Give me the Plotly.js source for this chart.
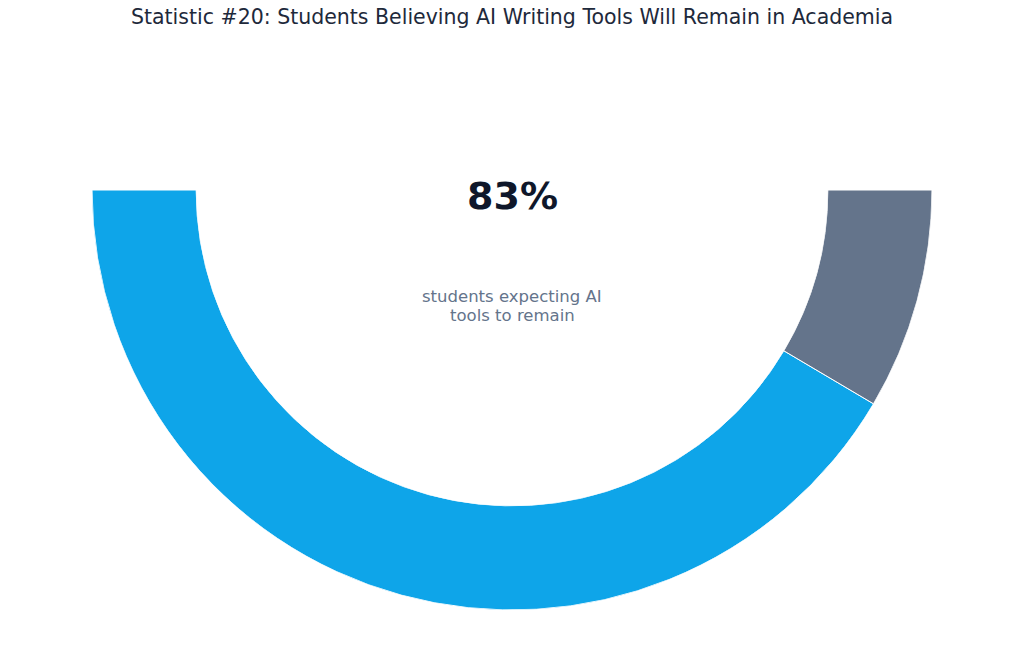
<!DOCTYPE html>
<html>
<head>
<meta charset="utf-8">
<script src="https://cdn.plot.ly/plotly-3.0.1.min.js"></script>
<style>
  html, body { margin: 0; padding: 0; background: #ffffff; }
  #chart { width: 1024px; height: 659px; }
</style>
</head>
<body>
<div id="chart"></div>
<script>
"use strict";

// data
var labels = ["Expect AI tools to remain", "Other"];
var values = [83, 17];
var colors = ["#0ea5e9", "#64748b"];
var bigLabel = "83%";
var subLines = ["students expecting AI", "tools to remain"];

// half gauge: 100% maps onto 180 degrees, starting at the left (180deg)
var theta = [];
var widths = [];
var start = 180;
for (var i = 0; i < values.length; i++) {
    var w = values[i] * 180 / 100;
    widths.push(w);
    theta.push(start + w / 2);
    start += w;
}

var data = [{
    type: "barpolar",
    r: values.map(function () { return 1; }),
    theta: theta,
    width: widths,
    base: 0,
    text: labels,
    marker: {
        color: colors,
        line: { color: "#ffffff", width: 1 }
    },
    hoverinfo: "text"
}];

var W = 1024, H = 659;
var layout = {
    width: W,
    height: H,
    margin: { l: 0, r: 0, t: 0, b: 0 },
    paper_bgcolor: "#ffffff",
    showlegend: false,
    font: { family: "DejaVu Sans, sans-serif" },
    title: {
        text: "Statistic #20: Students Believing AI Writing Tools Will Remain in Academia",
        font: { size: 20.5, color: "#1e293b", family: "DejaVu Sans, sans-serif" },
        x: 0.5, xanchor: "center",
        y: 1 - 17 / H, yanchor: "middle", yref: "container"
    },
    polar: {
        domain: { x: [92 / W, 932 / W], y: [1 - 610 / H, 1 - 190 / H] },
        sector: [180, 360],
        hole: 0.752,
        bgcolor: "rgba(0,0,0,0)",
        radialaxis: { range: [0, 1], visible: false, showgrid: false, showline: false, showticklabels: false, ticks: "" },
        angularaxis: { visible: false, showgrid: false, showline: false, showticklabels: false, ticks: "", direction: "counterclockwise", rotation: 0 }
    },
    annotations: [
        {
            text: "<b>" + bigLabel + "</b>",
            x: 0.5, xref: "paper", xanchor: "center",
            y: 1 - 196 / H, yref: "paper", yanchor: "middle",
            showarrow: false,
            font: { size: 38, color: "#0f172a", family: "DejaVu Sans, sans-serif" }
        },
        {
            text: subLines[0],
            x: 0.5, xref: "paper", xanchor: "center",
            y: 1 - 297 / H, yref: "paper", yanchor: "middle",
            showarrow: false,
            font: { size: 16.5, color: "#64748b", family: "DejaVu Sans, sans-serif" }
        },
        {
            text: subLines[1],
            x: 0.5, xref: "paper", xanchor: "center",
            y: 1 - 315 / H, yref: "paper", yanchor: "middle",
            showarrow: false,
            font: { size: 16.5, color: "#64748b", family: "DejaVu Sans, sans-serif" }
        }
    ]
};

Plotly.newPlot("chart", data, layout, { displayModeBar: false, staticPlot: true });
</script>
</body>
</html>
